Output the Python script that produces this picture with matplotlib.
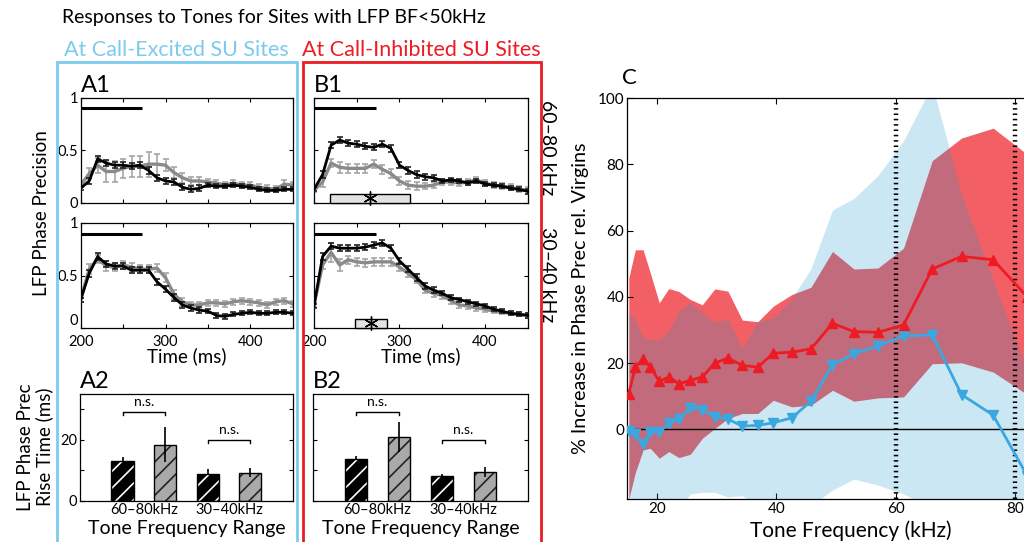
import numpy as np
import matplotlib
matplotlib.use("Agg")
import matplotlib.pyplot as plt
from matplotlib.patches import Rectangle

plt.rcParams['font.family'] = ['Lato', 'DejaVu Sans']
plt.rcParams['hatch.linewidth'] = 1.2

# ---------------- data: LFP phase precision time courses ----------------
time_ms = [200, 210, 220, 230, 240, 250, 260, 270, 280, 290, 300, 310, 320,
           330, 340, 350, 360, 370, 380, 390, 400, 410, 420, 430, 440, 450]

a1_hi_black = [0.14, 0.21, 0.42, 0.38, 0.36, 0.36, 0.35, 0.36, 0.31, 0.24, 0.21, 0.20, 0.15,
               0.13, 0.14, 0.17, 0.16, 0.16, 0.17, 0.16, 0.15, 0.13, 0.12, 0.12, 0.13, 0.13]
a1_hi_gray = [0.17, 0.28, 0.36, 0.30, 0.30, 0.33, 0.35, 0.35, 0.37, 0.37, 0.36, 0.29, 0.24,
              0.21, 0.21, 0.20, 0.19, 0.17, 0.19, 0.17, 0.17, 0.15, 0.14, 0.13, 0.18, 0.17]
a1_lo_black = [0.27, 0.52, 0.68, 0.61, 0.59, 0.59, 0.55, 0.55, 0.55, 0.44, 0.37, 0.29, 0.22,
               0.19, 0.17, 0.16, 0.12, 0.11, 0.13, 0.14, 0.15, 0.14, 0.14, 0.15, 0.15, 0.14]
a1_lo_gray = [0.27, 0.56, 0.66, 0.59, 0.58, 0.60, 0.58, 0.56, 0.56, 0.57, 0.48, 0.32, 0.25,
              0.22, 0.22, 0.24, 0.24, 0.23, 0.25, 0.26, 0.25, 0.24, 0.22, 0.25, 0.26, 0.23]
b1_hi_black = [0.13, 0.27, 0.55, 0.60, 0.57, 0.56, 0.54, 0.53, 0.56, 0.52, 0.36, 0.31, 0.27,
               0.25, 0.24, 0.21, 0.22, 0.21, 0.19, 0.21, 0.18, 0.17, 0.16, 0.14, 0.13, 0.11]
b1_hi_gray = [0.12, 0.20, 0.38, 0.34, 0.33, 0.33, 0.33, 0.37, 0.32, 0.28, 0.21, 0.17, 0.16,
              0.16, 0.17, 0.20, 0.20, 0.19, 0.20, 0.22, 0.19, 0.17, 0.16, 0.15, 0.13, 0.12]
b1_lo_black = [0.21, 0.68, 0.78, 0.76, 0.76, 0.76, 0.77, 0.79, 0.81, 0.76, 0.64, 0.56, 0.48,
               0.40, 0.36, 0.33, 0.29, 0.27, 0.25, 0.23, 0.21, 0.18, 0.16, 0.14, 0.13, 0.12]
b1_lo_gray = [0.22, 0.60, 0.72, 0.60, 0.65, 0.63, 0.62, 0.63, 0.63, 0.63, 0.58, 0.52, 0.46,
              0.36, 0.33, 0.31, 0.26, 0.22, 0.21, 0.19, 0.18, 0.16, 0.15, 0.14, 0.13, 0.12]

err_black = [0.02, 0.03, 0.03, 0.03, 0.03, 0.03, 0.03, 0.03, 0.03, 0.03, 0.03, 0.03, 0.03,
             0.03, 0.03, 0.02, 0.02, 0.02, 0.02, 0.02, 0.02, 0.02, 0.02, 0.02, 0.02, 0.02]
err_a1_hi_gray = [0.02, 0.05, 0.07, 0.10, 0.10, 0.09, 0.10, 0.10, 0.12, 0.10, 0.06, 0.05, 0.05,
                  0.04, 0.04, 0.03, 0.03, 0.03, 0.03, 0.03, 0.03, 0.03, 0.03, 0.03, 0.04, 0.03]
err_gray = [0.02, 0.05, 0.04, 0.05, 0.04, 0.04, 0.04, 0.04, 0.04, 0.04, 0.04, 0.04, 0.04,
            0.03, 0.03, 0.03, 0.03, 0.03, 0.03, 0.03, 0.03, 0.03, 0.03, 0.03, 0.03, 0.03]
err_b_gray_lo = [0.02, 0.04, 0.09, 0.06, 0.04, 0.04, 0.04, 0.04, 0.04, 0.04, 0.04, 0.03, 0.03,
                 0.03, 0.03, 0.03, 0.03, 0.03, 0.03, 0.03, 0.03, 0.02, 0.02, 0.02, 0.02, 0.02]

stim_bar = (200, 272)          # black bar at top of time panels
sig_b1_hi = (219, 312)         # significance windows (ms)
sig_b1_lo = (248, 285)

# ---------------- data: rise time bars ----------------
range_labels = ['60\u201380kHz', '30\u201340kHz']
a2_black = [13.1, 8.7]
a2_black_err = [1.3, 1.7]
a2_gray = [18.4, 9.2]
a2_gray_err = [5.8, 1.4]
b2_black = [13.6, 8.1]
b2_black_err = [1.1, 0.6]
b2_gray = [20.9, 9.3]
b2_gray_err = [4.9, 1.6]

# ---------------- data: panel C ----------------
freq_khz = [15.3, 16.4, 17.7, 18.9, 20.4, 22.0, 23.7, 25.6, 27.6, 29.7, 31.9, 34.3,
            36.9, 39.5, 42.6, 45.8, 49.4, 53.0, 57.0, 61.3, 66.1, 71.0, 76.3, 82.0]
red_mean = [10.8, 18.8, 21.3, 18.8, 14.5, 15.8, 13.8, 14.8, 15.8, 20.0, 21.5, 19.3,
            18.8, 23.0, 23.3, 24.3, 32.0, 29.5, 29.3, 31.5, 48.4, 52.2, 51.2, 40.0]
red_hi = [45.7, 54.2, 54.2, 47.2, 38.2, 42.5, 41.6, 39.2, 37.6, 42.4, 41.7, 33.0,
          32.5, 37.2, 40.7, 42.9, 53.7, 48.4, 48.7, 54.7, 81.1, 87.9, 90.9, 83.0]
red_lo = [-21.0, -13.0, -6.2, -5.7, -8.7, -6.7, -8.5, -7.5, -2.7, 0.3, 3.3, 4.8,
          4.8, 8.8, 6.8, 7.3, 11.8, 8.5, 9.5, 9.8, 19.8, 20.1, 17.3, 10.5]
blue_mean = [-0.4, -1.5, -4.4, -0.7, -0.7, 1.8, 3.1, 6.6, 6.0, 3.8, 3.1, 1.0,
             1.2, 2.0, 3.5, 8.5, 19.5, 22.8, 25.2, 28.2, 28.5, 10.5, 4.3, -14.0]
blue_hi = [35.2, 33.2, 27.7, 27.2, 27.2, 29.7, 35.7, 38.4, 35.2, 32.4, 33.2, 24.5,
           32.7, 33.7, 39.5, 48.5, 66.2, 69.7, 76.6, 87.1, 104.0, 71.0, 45.0, 18.0]
blue_lo = [-30.0, -28.0, -27.0, -26.0, -25.0, -25.0, -24.0, -19.5, -19.0, -19.0, -20.4, -20.0,
           -23.0, -25.0, -24.0, -23.0, -18.3, -15.0, -16.8, -19.5, -24.0, -25.0, -26.0, -26.0]

RED = '#ed1c24'
BLUE = '#3aa8e0'
LBLUE = '#7ccbef'
GRAY = '#8a8a8a'
GRAY_ERR = '#a5a5a5'

W, H = 1024, 542
fig = plt.figure(figsize=(W / 100, H / 100), dpi=100)


def rect(x0, y0, x1, y1):
    # pixel box -> figure fraction
    return [x0 / W, 1 - y1 / H, (x1 - x0) / W, (y1 - y0) / H]


def style_box(ax):
    ax.tick_params(direction='in', top=True, right=True, labelsize=10.5,
                   length=3, width=0.8, pad=2)
    for s in ax.spines.values():
        s.set_linewidth(0.9)


def time_panel(ax, black, gray, egray, sig=None, xlabels=False, ylabels=True):
    ax.errorbar(time_ms, gray, yerr=egray, color=GRAY, ecolor=GRAY_ERR, lw=2.4,
                elinewidth=1.2, capsize=2.5, capthick=1.2, zorder=2)
    ax.errorbar(time_ms, black, yerr=err_black, color='black', ecolor='#222222', lw=2,
                elinewidth=1.2, capsize=2.5, capthick=1.2, zorder=3)
    ax.plot(stim_bar, [0.9, 0.9], color='black', lw=2.2, solid_capstyle='butt')
    if sig is not None:
        ax.add_patch(Rectangle((sig[0], 0.0), sig[1] - sig[0], 0.09, facecolor='#e2e2e2',
                               edgecolor='black', lw=1, zorder=4, clip_on=False))
        ax.plot([(sig[0] + sig[1]) / 2], [0.045], marker=(6, 2, 0), ms=10,
                color='black', mew=1, zorder=5, clip_on=False)
    ax.set_xlim(200, 450)
    ax.set_ylim(0, 1)
    ax.set_xticks([200, 250, 300, 350, 400, 450])
    ax.set_xticklabels(['200', '', '300', '', '400', ''] if xlabels else [])
    ax.set_yticks([0, 0.5, 1])
    ax.set_yticklabels(['0', '0.5', '1'] if ylabels else [])
    style_box(ax)
    if xlabels:
        ax.tick_params(axis='x', pad=5)
        if ylabels:
            # keep the "0" clear of the "200" below it
            ax.get_yticklabels()[0].set_verticalalignment('bottom')


def bar_panel(ax, black, black_err, gray, gray_err, ns_y, ylabels=True):
    pos = np.array([1.0, 2.0])
    w = 0.26
    off = 0.25
    ax.bar(pos - off, black, w, color='black', edgecolor='white', hatch='//', lw=0)
    ax.bar(pos - off, black, w, fill=False, edgecolor='black', lw=1)
    ax.bar(pos + off, gray, w, color='#a9a9a9', edgecolor='#222222', hatch='//', lw=0)
    ax.bar(pos + off, gray, w, fill=False, edgecolor='black', lw=1)
    ax.errorbar(pos - off, black, yerr=[[0, 0], black_err], fmt='none', ecolor='black',
                elinewidth=1.2, capsize=0)
    ax.errorbar(pos + off, gray, yerr=gray_err, fmt='none', ecolor='black',
                elinewidth=1.2, capsize=0)
    for p, yb in zip(pos, ns_y):
        ax.plot([p - off, p - off, p + off, p + off], [yb - 1.1, yb, yb, yb - 1.1],
                color='black', lw=1)
        ax.text(p, yb + 1.2, 'n.s.', ha='center', va='bottom', fontsize=10)
    ax.set_xlim(0.25, 2.75)
    ax.set_ylim(0, 35)
    ax.set_xticks(pos)
    ax.set_xticklabels(range_labels, fontsize=10.5)
    ax.set_yticks([0, 10, 20, 30])
    ax.set_yticklabels(['0', '', '20', ''] if ylabels else [])
    ax.set_xlabel('Tone Frequency Range', fontsize=14, labelpad=2)
    style_box(ax)
    ax.tick_params(axis='x', length=0)


# ---------------- panels A ----------------
ax_a1a = fig.add_axes(rect(80.7, 98, 292.7, 203))
time_panel(ax_a1a, a1_hi_black, a1_hi_gray, err_a1_hi_gray)
ax_a1b = fig.add_axes(rect(80.7, 223, 292.7, 328))
time_panel(ax_a1b, a1_lo_black, a1_lo_gray, err_gray, xlabels=True)
ax_a1b.set_xlabel('Time (ms)', fontsize=13.5, labelpad=-1)
ax_a1a.text(0.0, 1.02, 'A1', transform=ax_a1a.transAxes, fontsize=17, va='bottom')

ax_a2 = fig.add_axes(rect(80, 394, 292.7, 500.7))
bar_panel(ax_a2, a2_black, a2_black_err, a2_gray, a2_gray_err, [29.1, 20.0])
ax_a2.text(0.0, 1.02, 'A2', transform=ax_a2.transAxes, fontsize=17, va='bottom')
fig.text(42 / W, 1 - 213 / H, 'LFP Phase Precision', rotation=90, ha='center',
         va='center', fontsize=13.5)
fig.text(35 / W, 1 - 447 / H, 'LFP Phase Prec\nRise Time (ms)', rotation=90,
         ha='center', va='center', fontsize=13.5, linespacing=1.1)

# ---------------- panels B ----------------
ax_b1a = fig.add_axes(rect(314, 98, 527.7, 203))
time_panel(ax_b1a, b1_hi_black, b1_hi_gray, err_gray, sig=sig_b1_hi, ylabels=False)
ax_b1b = fig.add_axes(rect(314, 223, 527.7, 328))
time_panel(ax_b1b, b1_lo_black, b1_lo_gray, err_b_gray_lo, sig=sig_b1_lo,
           xlabels=True, ylabels=False)
ax_b1b.set_xlabel('Time (ms)', fontsize=13.5, labelpad=-1)
ax_b1a.text(0.0, 1.02, 'B1', transform=ax_b1a.transAxes, fontsize=17, va='bottom')

ax_b2 = fig.add_axes(rect(313.3, 394, 527.7, 500.7))
bar_panel(ax_b2, b2_black, b2_black_err, b2_gray, b2_gray_err, [29.1, 20.0], ylabels=False)
ax_b2.text(0.0, 1.02, 'B2', transform=ax_b2.transAxes, fontsize=17, va='bottom')

fig.text(548 / W, 1 - 148 / H, '60\u201380 kHz', rotation=-90, ha='center', va='center',
         fontsize=14)
fig.text(548 / W, 1 - 275 / H, '30\u201340 kHz', rotation=-90, ha='center', va='center',
         fontsize=14)

# ---------------- headers and boxes ----------------
fig.text(274 / W, 1 - 18 / H, 'Responses to Tones for Sites with LFP BF<50kHz',
         ha='center', va='center', fontsize=14)
fig.text(176 / W, 1 - 50 / H, 'At Call-Excited SU Sites', ha='center', va='center',
         fontsize=15.5, color=LBLUE)
fig.text(421 / W, 1 - 50 / H, 'At Call-Inhibited SU Sites', ha='center', va='center',
         fontsize=15.5, color=RED)
fig.add_artist(Rectangle((57 / W, -0.02), 240 / W, 1 - 62 / H + 0.02,
                         transform=fig.transFigure, fill=False, edgecolor=LBLUE, lw=2))
fig.add_artist(Rectangle((303 / W, -0.02), 238 / W, 1 - 62 / H + 0.02,
                         transform=fig.transFigure, fill=False, edgecolor=RED, lw=2))

# ---------------- panel C ----------------
axc = fig.add_axes(rect(627, 98, 1075, 499))
axc.fill_between(freq_khz, red_lo, red_hi, color=RED, alpha=0.7, lw=0, zorder=1)
axc.fill_between(freq_khz, blue_lo, blue_hi, color='#1b96d1', alpha=0.22, lw=0, zorder=2)
axc.axhline(0, color='black', lw=1, zorder=3)
for xv in (60, 80):
    axc.axvline(xv, color='black', lw=3.2, ls=(0, (0.35, 0.85)), zorder=3)
axc.plot(freq_khz, blue_mean, color=BLUE, lw=2, marker='v', ms=7, zorder=4)
axc.plot(freq_khz, red_mean, color=RED, lw=2, marker='^', ms=7, zorder=5)
axc.set_xlim(15, 90)
axc.set_ylim(-21, 100)
axc.set_xticks([20, 40, 60, 80])
axc.set_yticks([0, 20, 40, 60, 80, 100])
axc.set_xlabel('Tone Frequency (kHz)', fontsize=15, labelpad=3)
axc.set_ylabel('% Increase in Phase Prec rel. Virgins', fontsize=14.2, labelpad=6)
style_box(axc)
axc.tick_params(length=4, labelsize=11)
axc.text(-0.012, 1.025, 'C', transform=axc.transAxes, fontsize=16, va='bottom')

fig.savefig('out.png', dpi=100)
